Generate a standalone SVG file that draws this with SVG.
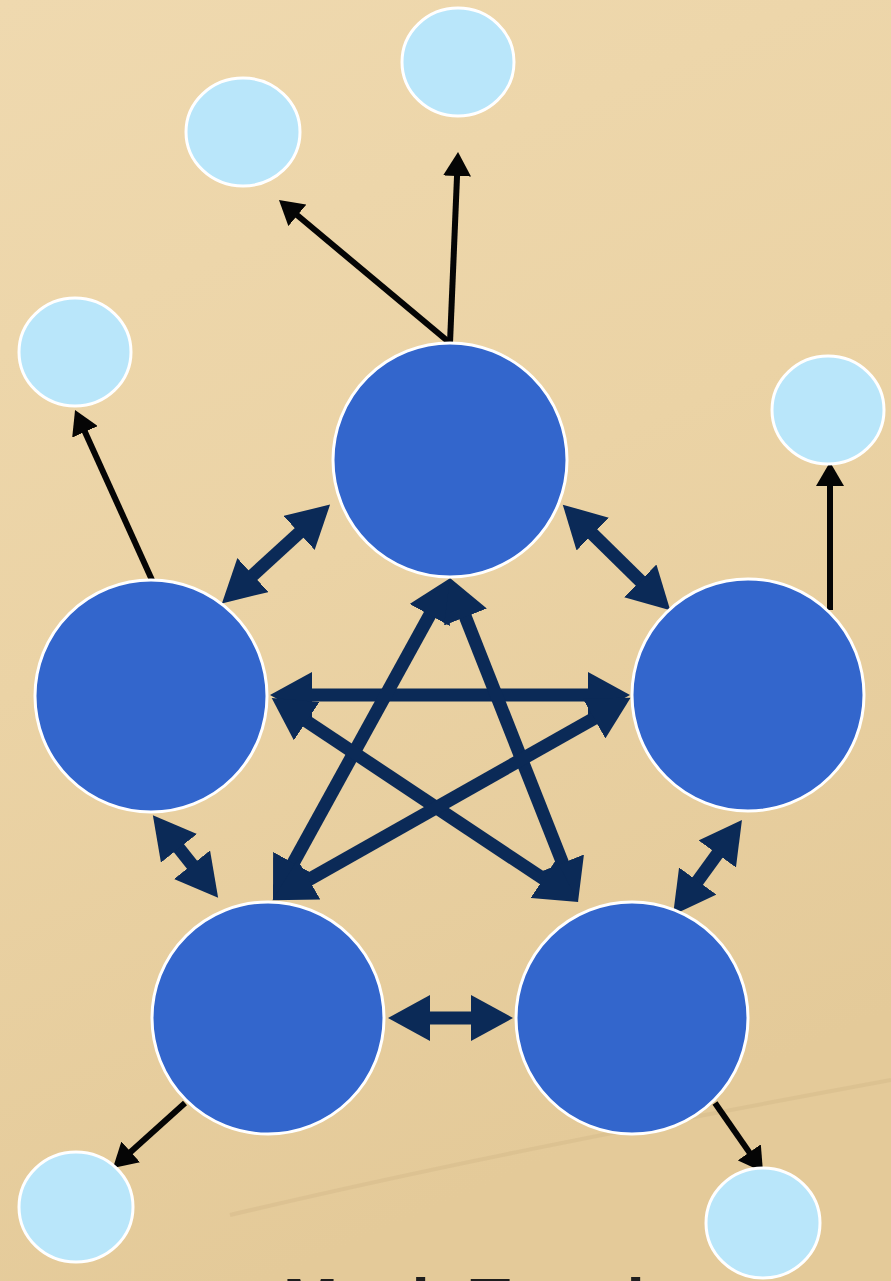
<svg xmlns="http://www.w3.org/2000/svg" width="891" height="1281" viewBox="0 0 891 1281">
<defs>
<linearGradient id="bg" x1="0" y1="0" x2="0.3" y2="1">
<stop offset="0" stop-color="#EFD9AF"/>
<stop offset="0.5" stop-color="#EBD3A5"/>
<stop offset="1" stop-color="#E4CA99"/>
</linearGradient>
<marker id="nh" markerUnits="userSpaceOnUse" markerWidth="46" markerHeight="46" refX="8" refY="23" orient="auto-start-reverse" viewBox="0 0 46 46">
<path d="M0,0 L42,23 L0,46 z" fill="#0B2A57"/>
</marker>
<marker id="bh" markerUnits="userSpaceOnUse" markerWidth="26" markerHeight="28" refX="4" refY="14" orient="auto" viewBox="0 0 26 28">
<path d="M0,0 L24,14 L0,28 z" fill="#050505"/>
</marker>
<style>
.big{fill:#3366CC;stroke:#FFFFFF;stroke-width:3}
.small{fill:#B9E6FA;stroke:#FFFFFF;stroke-width:3}
.nav{stroke:#0B2A57;stroke-width:13;fill:none;marker-start:url(#nh);marker-end:url(#nh)}
.blk{stroke:#050505;stroke-width:6;fill:none;marker-end:url(#bh)}
.title{font-family:"Liberation Sans",Arial,sans-serif;font-weight:bold;font-size:66px;fill:#1E1E1E}
</style>
</defs>
<rect x="0" y="0" width="891" height="1281" fill="url(#bg)"/>
<path d="M230,1215 C420,1170 620,1130 891,1080" stroke="#C9AE80" stroke-width="4" fill="none" opacity="0.3"/>

<g id="connectors">
<line class="blk" x1="450" y1="343" x2="457.2" y2="172"/>
<line class="blk" x1="450" y1="343" x2="294.3" y2="212.8"/>
<line class="blk" x1="152" y1="580" x2="83.3" y2="428.2"/>
<line class="blk" x1="830" y1="610" x2="830" y2="482"/>
<line class="blk" x1="185" y1="1103" x2="127.8" y2="1154.6"/>
<line class="blk" x1="715" y1="1103" x2="751.6" y2="1155.6"/>

<line class="nav" x1="247" y1="580.5" x2="305" y2="527.5"/>
<line class="nav" x1="587" y1="528.5" x2="646" y2="586.5"/>
<line class="nav" x1="174" y1="842" x2="197" y2="871"/>
<line class="nav" x1="722" y1="847.5" x2="693" y2="887.5"/>
<line class="nav" x1="422" y1="1018" x2="479" y2="1018"/>

<line class="nav" x1="304" y1="695" x2="596" y2="695"/>
<line class="nav" x1="433.6" y1="608" x2="289.4" y2="870"/>
<line class="nav" x1="462.5" y1="609.6" x2="565.5" y2="870.4"/>
<line class="nav" x1="300" y1="716.8" x2="550" y2="883.2"/>
<line class="nav" x1="601" y1="714.5" x2="302" y2="883.5"/>
</g>

<g id="node-top"><circle class="big" cx="450" cy="460" r="117"/></g>
<g id="node-left"><circle class="big" cx="151" cy="696" r="116"/></g>
<g id="node-right"><circle class="big" cx="748" cy="695" r="116"/></g>
<g id="node-bottom-left"><circle class="big" cx="268" cy="1018" r="116"/></g>
<g id="node-bottom-right"><circle class="big" cx="632" cy="1018" r="116"/></g>

<g id="leaf-top"><ellipse class="small" cx="458" cy="62" rx="56" ry="54"/></g>
<g id="leaf-top-left"><ellipse class="small" cx="243" cy="132" rx="57" ry="54"/></g>
<g id="leaf-left"><ellipse class="small" cx="75" cy="352" rx="56" ry="54"/></g>
<g id="leaf-right"><ellipse class="small" cx="828" cy="410" rx="56" ry="54"/></g>
<g id="leaf-bottom-left"><ellipse class="small" cx="76" cy="1207" rx="57" ry="55"/></g>
<g id="leaf-bottom-right"><ellipse class="small" cx="763" cy="1223" rx="57" ry="55"/></g>

<text class="title" x="283" y="1325">Mesh Topology</text>
</svg>
